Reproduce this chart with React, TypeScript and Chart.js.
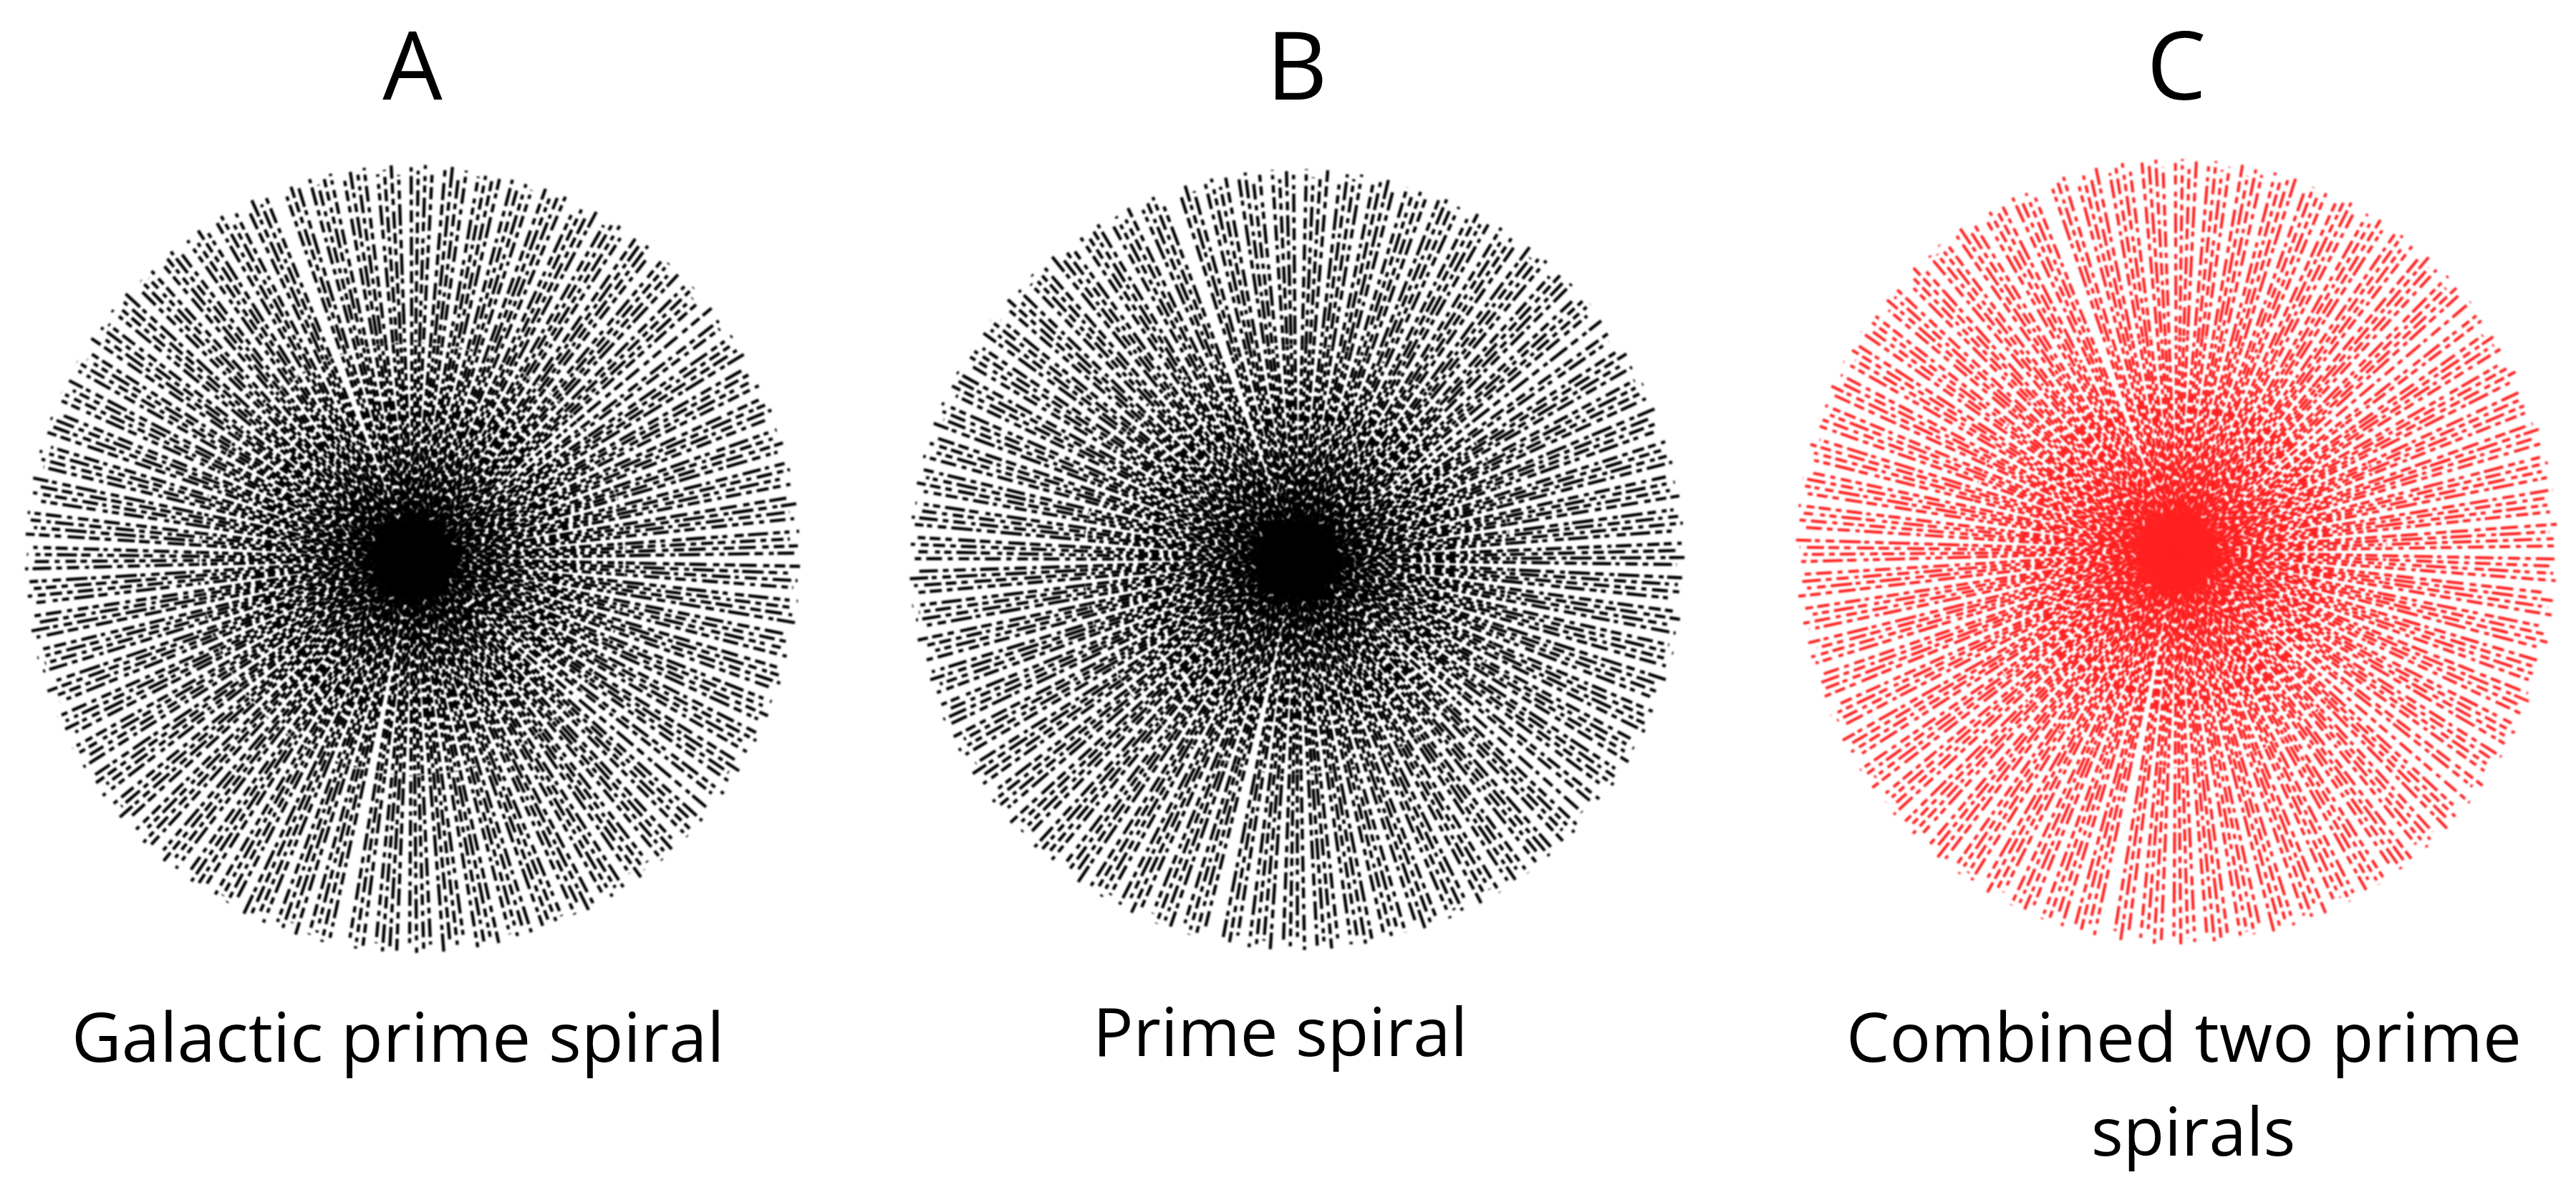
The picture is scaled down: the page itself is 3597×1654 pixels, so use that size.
import React, { useEffect, useRef } from "react";
import { Chart, registerables } from "chart.js";

Chart.register(...registerables);

// The spokes: angle of each bundle, in degrees.
// The individual prime dots cannot be read one by one, so each spoke is a dashed line:
// dash patterns below approximate the texture of the dots, they are not measured values.
const wedgeAngles = [
  2.43, 7.5, 12.57, 17.64, 22.71, 27.78, 32.85, 37.92, 42.99, 48.06, 53.13, 58.2, 63.27, 68.34, 73.41, 78.48,
  83.55, 88.62, 93.69, 98.76, 103.83, 108.9, 113.97, 119.04, 124.11, 129.18, 134.25, 139.32, 144.39, 149.46,
  154.53, 159.6, 164.67, 169.74, 174.81, 179.88, 184.95, 190.02, 195.09, 200.16, 205.23, 210.3, 215.37, 220.44,
  225.51, 230.58, 235.65, 240.72, 245.79, 250.86, 255.93, 261.0, 266.07, 271.14, 276.21, 281.28, 286.35, 291.42,
  296.49, 301.56, 306.63, 311.7, 316.77, 321.84, 326.91, 331.98, 337.05, 342.12, 347.19, 352.26, 357.33,
];
const rayOffsets = [-1.58, -0.53, 0.53, 1.58];
const missingRays = ["108.9:1.58", "37.92:0.53", "261:-1.58", "321.84:-0.53"];
const zoneStarts = [0, 0.1, 0.55];
const rimShares = [1, 0.985, 0.995, 0.975, 1, 0.99, 0.98];

const coreDashes = [
  [12, 2, 7, 2, 18, 2],
  [8, 2, 14, 3, 6, 2],
  [20, 3, 9, 2],
];
const middleDashes = [
  [11, 6, 8, 5, 15, 7, 6, 5],
  [7, 5, 17, 7, 9, 6, 10, 5],
  [19, 6, 6, 7, 10, 5],
  [6, 6, 11, 5, 13, 8, 9, 5],
  [13, 7, 9, 5, 7, 6],
];
const outerDashes = [
  [17, 7, 8, 7, 26, 6, 6, 8],
  [9, 6, 15, 8, 7, 8, 22, 7],
  [28, 7, 10, 6, 7, 10, 13, 6],
  [8, 7, 17, 6, 11, 8, 6, 6, 22, 7],
  [15, 6, 24, 9, 9, 7],
  [12, 8, 7, 5, 30, 7],
];
const dashPhases = [0, 13, 5, 27, 9, 21, 3, 17, 31, 7, 24, 11, 2, 19];

const panelTitles = ["A", "B", "C"];
const panelColors = ["#000000", "#000000", "#ff2020"];
const panelShifts = [0, -1.6, 0];
const captions = [
  { text: "Galactic prime spiral", left: 100, baseline: 1480, size: 96 },
  { text: "Prime spiral", left: 1526, baseline: 1473, size: 94 },
  { text: "Combined two prime", left: 2578, baseline: 1480, size: 96 },
  { text: "spirals", left: 2920, baseline: 1612, size: 94 },
];

const panels = [
  { cx: 576, cy: 780, rx: 541, ry: 550, titleX: 576 },
  { cx: 1811, cy: 781, rx: 541, ry: 545, titleX: 1811 },
  { cx: 3039, cy: 770, rx: 532, ry: 548, titleX: 3039 },
];

function rayDatasets(panel: number, color: string) {
  const sets: any[] = [];
  const dashTables = [coreDashes, middleDashes, outerDashes];
  let n = panel * 5;
  wedgeAngles.forEach((w) => {
    rayOffsets.forEach((o) => {
      n += 1;
      if (missingRays.includes(`${w}:${o}`)) return;
      const a = ((w + o + panelShifts[panel]) * Math.PI) / 180;
      const ux = Math.cos(a);
      const uy = Math.sin(a);
      const rim = rimShares[n % rimShares.length];
      zoneStarts.forEach((start, z) => {
        const end = z + 1 < zoneStarts.length ? zoneStarts[z + 1] : rim;
        const table = dashTables[z];
        sets.push({
          showLine: true,
          pointRadius: 0,
          borderColor: color,
          borderWidth: panel === 2 ? 4 : 4.4,
          fill: false,
          data: [{ x: ux * start, y: uy * start }, { x: ux * end, y: uy * end }],
          borderDash: table[(n * (z + 3)) % table.length],
          borderDashOffset: dashPhases[(n * (z + 1)) % dashPhases.length],
        });
      });
    });
  });
  return sets;
}

function Spiral({ index }: { index: number }) {
  const ref = useRef<HTMLCanvasElement | null>(null);
  const p = panels[index];
  useEffect(() => {
    const chart = new Chart(ref.current as HTMLCanvasElement, {
      type: "scatter",
      data: { datasets: rayDatasets(index, panelColors[index]) },
      options: {
        animation: false,
        responsive: false,
        layout: { padding: 0 },
        plugins: { legend: { display: false }, tooltip: { enabled: false } },
        scales: {
          x: { type: "linear", min: -1.02, max: 1.02, display: false },
          y: { type: "linear", min: -1.02, max: 1.02, display: false },
        },
      },
    });
    return () => chart.destroy();
  }, [index]);
  const w = Math.round(p.rx * 2.04);
  const h = Math.round(p.ry * 2.04);
  return (
    <canvas
      ref={ref}
      width={w}
      height={h}
      style={{
        position: "absolute",
        left: p.cx - w / 2,
        top: p.cy - h / 2,
        width: w,
        height: h,
        filter: "blur(0.8px)",
      }}
    />
  );
}

const font = '"Open Sans", sans-serif';

export default function App() {
  return (
    <div style={{ position: "absolute", left: 0, top: 0, width: 3597, height: 1654, background: "#fff", overflow: "hidden", fontFamily: font, color: "#000" }}>
      {panelTitles.map((t, i) => (
        <div key={t} style={{ position: "absolute", left: panels[i].titleX - 150, width: 300, top: 132 - 134, height: 180, lineHeight: "180px", textAlign: "center", fontSize: 132 }}>
          {t}
        </div>
      ))}
      {panels.map((_, i) => (
        <Spiral key={i} index={i} />
      ))}
      {captions.map((c) => (
        <div key={c.text} style={{ position: "absolute", left: c.left, top: c.baseline - 100, height: 130, lineHeight: "130px", fontSize: c.size, whiteSpace: "nowrap" }}>
          {c.text}
        </div>
      ))}
    </div>
  );
}
